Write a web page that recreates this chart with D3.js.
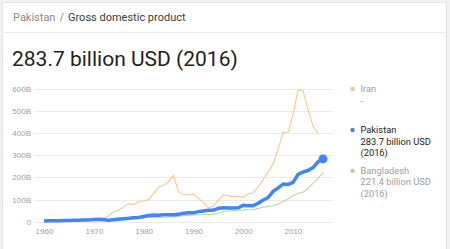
<!DOCTYPE html>
<html>
<head>
<meta charset="utf-8">
<style>
body { margin: 0; background: #f1f1f1; }
svg { display: block; font-family: Roboto, Arial, sans-serif; }
.grid line { stroke: #ebebeb; stroke-width: 1px; }
.axis text { fill: #9e9e9e; font-size: 8px; }
</style>
</head>
<body>
<script src="https://cdn.jsdelivr.net/npm/d3@7"></script>
<script>
// GDP, billion USD
var years = d3.range(1960, 2017);
var pakistan = [3.7, 4.1, 4.3, 4.7, 5.2, 5.8, 6.4, 6.9, 7.4, 8.1,
  10.0, 10.6, 9.3, 6.3, 8.8, 11.3, 13.3, 15.1, 17.5, 19.4,
  23.7, 28.0, 30.7, 28.7, 31.2, 31.1, 31.4, 33.2, 38.5, 40.2,
  40.0, 45.5, 48.6, 51.5, 51.9, 60.6, 63.3, 62.4, 62.2, 62.9,
  74.0, 72.3, 72.3, 83.2, 98.0, 109.5, 137.3, 152.4, 170.1, 168.2,
  177.4, 213.6, 224.4, 231.2, 244.4, 270.6, 283.7];
var iran = [4.2, 4.4, 4.7, 4.9, 5.4, 6.2, 6.8, 7.7, 8.8, 9.9,
  10.9, 13.4, 17.1, 27.1, 46.2, 51.8, 68.1, 80.6, 77.4, 90.4,
  94.4, 100.5, 127.0, 156.6, 164.6, 180.6, 209.1, 134.4, 123.1, 120.5,
  124.8, 105, 86, 64, 70, 96, 121, 117, 112, 114,
  111, 126, 130, 158, 190, 225, 262, 330, 403, 404,
  488, 595, 592, 505, 432, 398];
var bangladesh = [4.3, 4.6, 5.0, 5.0, 5.4, 5.8, 6.0, 6.6, 7.1, 7.9,
  9.0, 8.8, 6.3, 8.1, 12.5, 19.4, 10.1, 9.7, 13.3, 15.6,
  18.1, 20.2, 18.8, 17.6, 18.9, 22.3, 21.8, 24.1, 26.6, 28.7,
  31.6, 30.9, 31.7, 33.2, 33.8, 37.9, 46.4, 48.2, 49.9, 51.3,
  53.4, 54.0, 54.7, 60.2, 65.1, 69.4, 71.8, 79.6, 91.6, 102.5,
  117, 128.6, 133.4, 150.0, 172.9, 195.1, 221.4];
var yTicks = [0, 100, 200, 300, 400, 500, 600];
var yTickLabels = ["0", "100B", "200B", "300B", "400B", "500B", "600B"];
var xTicks = [1960, 1970, 1980, 1990, 2000, 2010];

var legendItems = [
  {name: "Iran", lines: ["-"], color: "#f9c48a", text: "#9e9e9e"},
  {name: "Pakistan", lines: ["283.7 billion USD", "(2016)"], color: "#4285f4", text: "#212121"},
  {name: "Bangladesh", lines: ["221.4 billion USD", "(2016)"], color: "#aad6a0", text: "#9e9e9e"}
];

var width = 450, height = 249;

var svg = d3.select("body").append("svg")
    .attr("width", width)
    .attr("height", height);

// card
svg.append("rect")
    .attr("x", 2.5).attr("y", 2.5)
    .attr("width", 444).attr("height", 260)
    .attr("fill", "#fff")
    .attr("stroke", "#e2e2e2");

svg.append("line")
    .attr("x1", 3).attr("x2", 446)
    .attr("y1", 32.5).attr("y2", 32.5)
    .attr("stroke", "#ececec");

var crumb = svg.append("text")
    .attr("x", 13).attr("y", 20.5)
    .style("font-size", "11px");
crumb.append("tspan").attr("fill", "#8a8a8a").text("Pakistan");
crumb.append("tspan").attr("fill", "#8a8a8a").attr("dx", 4).text("/");
crumb.append("tspan").attr("fill", "#3c3c3c").attr("dx", 4).text("Gross domestic product");

svg.append("text")
    .attr("x", 12).attr("y", 65.5)
    .attr("fill", "#222")
    .style("font-size", "21px")
    .text("283.7 billion USD (2016)");

var x = d3.scaleLinear().domain([1960, 2016]).range([44, 323]);
var y = d3.scaleLinear().domain([0, 600]).range([221.7, 88.9]);

// gridlines
svg.append("g").attr("class", "grid")
  .selectAll("line")
  .data(yTicks)
  .enter().append("line")
    .attr("x1", 34).attr("x2", 333)
    .attr("y1", function(d) { return Math.round(y(d)) + 0.5; })
    .attr("y2", function(d) { return Math.round(y(d)) + 0.5; });

var yAxis = d3.axisLeft(y).tickValues(yTicks)
    .tickFormat(function(d, i) { return yTickLabels[i]; })
    .tickSize(0).tickPadding(0);
svg.append("g").attr("class", "axis")
    .attr("transform", "translate(31,0)")
    .call(yAxis)
    .call(function(g) { g.select(".domain").remove(); });

var xAxis = d3.axisBottom(x).tickValues(xTicks)
    .tickFormat(d3.format("d"))
    .tickSize(0).tickPadding(0);
svg.append("g").attr("class", "axis")
    .attr("transform", "translate(0,228)")
    .call(xAxis)
    .call(function(g) { g.select(".domain").remove(); });

var line = d3.line()
    .x(function(d) { return x(d[0]); })
    .y(function(d) { return y(d[1]); });

function pairs(vals) {
  return vals.map(function(v, i) { return [years[i], v]; });
}

svg.append("path")
    .datum(pairs(iran))
    .attr("d", line)
    .attr("fill", "none")
    .attr("stroke", "#fbc68c")
    .attr("stroke-width", 1.1);

svg.append("path")
    .datum(pairs(bangladesh))
    .attr("d", line)
    .attr("fill", "none")
    .attr("stroke", "#b2dba8")
    .attr("stroke-width", 1.1);

svg.append("path")
    .datum(pairs(pakistan))
    .attr("d", line)
    .attr("fill", "none")
    .attr("stroke", "#4285f4")
    .attr("stroke-width", 3.5)
    .attr("stroke-linejoin", "round");

svg.append("circle")
    .attr("cx", x(2016))
    .attr("cy", y(pakistan[pakistan.length - 1]))
    .attr("r", 4.5)
    .attr("fill", "#4285f4");

// legend
var legendTop = [89, 130, 170.7];
legendItems.forEach(function(item, i) {
  var g = svg.append("g").attr("transform", "translate(0," + legendTop[i] + ")");
  g.append("circle").attr("cx", 352.5).attr("cy", 0).attr("r", 2.2).attr("fill", item.color);
  var t = g.append("text").attr("x", 360.5).attr("y", 3.3)
      .style("font-size", "9.3px").attr("fill", item.text);
  t.append("tspan").attr("x", 360.5).text(item.name);
  item.lines.forEach(function(l) {
    t.append("tspan").attr("x", 360.5).attr("dy", 11.4).text(l);
  });
});
</script>
</body>
</html>
